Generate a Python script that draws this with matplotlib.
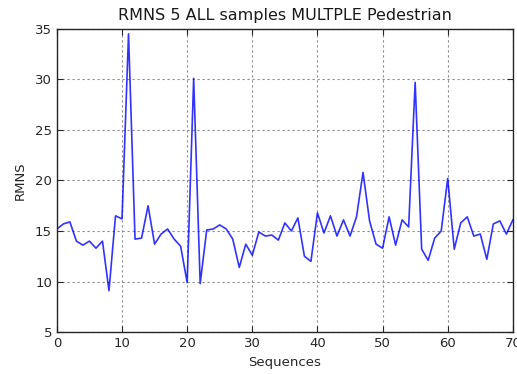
import matplotlib
matplotlib.use("Agg")
import matplotlib.pyplot as plt

sequences = list(range(71))
rmns = [15.2, 15.7, 15.9, 14.0, 13.6, 14.0, 13.3, 14.0, 9.1, 16.5,
        16.2, 34.5, 14.2, 14.3, 17.5, 13.7, 14.7, 15.2, 14.2, 13.5,
        9.9, 30.1, 9.8, 15.1, 15.2, 15.6, 15.2, 14.2, 11.4, 13.7,
        12.6, 14.9, 14.5, 14.6, 14.1, 15.8, 15.0, 16.3, 12.5, 12.0,
        16.8, 14.8, 16.5, 14.5, 16.1, 14.5, 16.4, 20.8, 16.0, 13.7,
        13.3, 16.4, 13.6, 16.1, 15.4, 29.7, 13.2, 12.1, 14.3, 15.0,
        20.2, 13.2, 15.8, 16.4, 14.5, 14.7, 12.2, 15.7, 16.0, 14.7,
        16.1]

xticks = [0, 10, 20, 30, 40, 50, 60, 70]
yticks = [5, 10, 15, 20, 25, 30, 35]

fig = plt.figure(figsize=(5.17, 3.74), dpi=100)
ax = fig.add_axes([0.110, 0.112, 0.882, 0.811])

ax.plot(sequences, rmns, color=(0, 0, 1), linewidth=1.2, alpha=0.8)

ax.set_xlim(0, 70)
ax.set_ylim(5, 35)
ax.set_xticks(xticks)
ax.set_yticks(yticks)
ax.grid(True, color="0.55", linestyle=(0, (2, 2.5)), linewidth=0.8)
ax.tick_params(direction="in", top=True, right=True, length=4,
               labelsize=9.5, colors="0.15")
for s in ax.spines.values():
    s.set_linewidth(1.0)
    s.set_color("0.15")

ax.set_title("RMNS 5 ALL samples MULTPLE Pedestrian", fontsize=11.5, color="0.1")
ax.set_xlabel("Sequences", fontsize=9.5, color="0.15")
ax.set_ylabel("RMNS", fontsize=9.5, color="0.15", labelpad=6)

fig.savefig("out.png", dpi=100)
